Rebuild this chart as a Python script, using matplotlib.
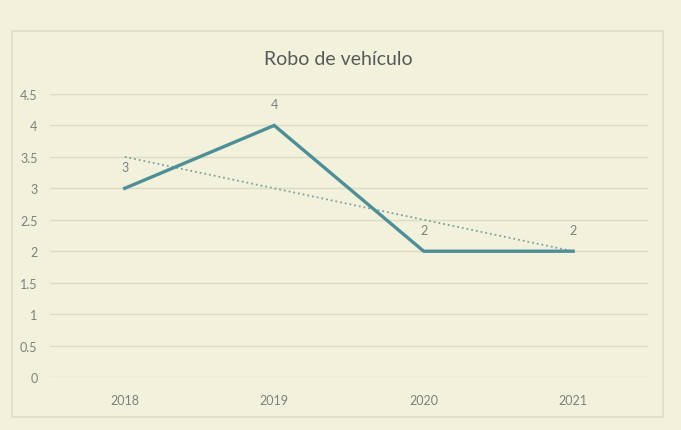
import numpy as np
import matplotlib
matplotlib.use('Agg')
import matplotlib.pyplot as plt
from matplotlib.patches import Rectangle

# Chart data
years = ['2018', '2019', '2020', '2021']
robos = [3, 4, 2, 2]
yticks = [0, 0.5, 1, 1.5, 2, 2.5, 3, 3.5, 4, 4.5]

bg = '#F2F2DC'
line_color = '#4E8F97'
text_color = '#7F7F7F'
grid_color = '#DCDCC4'

plt.rcParams['font.family'] = ['Lato', 'DejaVu Sans']

fig = plt.figure(figsize=(6.81, 4.31), dpi=100, facecolor=bg)

# Chart frame
fig.patches.append(Rectangle((0.0176, 0.030), 0.956, 0.8956, transform=fig.transFigure,
                             facecolor='none', edgecolor='#DEDEC6', linewidth=1.2))

ax = fig.add_axes([0.0734, 0.123, 0.878, 0.6566])
ax.set_facecolor(bg)

x = np.arange(len(years))
ax.plot(x, robos, color=line_color, linewidth=2.4, solid_joinstyle='miter', zorder=3)

# Linear trend line
slope, intercept = np.polyfit(x, robos, 1)
ax.plot(x, slope * x + intercept, color='#7FA0A0', linewidth=1.3, linestyle=':', zorder=2)

# Data labels
for xi, v in zip(x, robos):
    ax.annotate(f"{v}", (xi, v), xytext=(0, 11), textcoords='offset points',
                ha='center', va='bottom', fontsize=9, color=text_color)

ax.set_xlim(-0.5, len(years) - 0.5)
ax.set_ylim(0, 4.5)
ax.set_xticks(x)
ax.set_xticklabels(years)
ax.set_yticks(yticks)
ax.set_yticklabels([f"{t:g}" for t in yticks])
ax.tick_params(axis='both', length=0, labelsize=9, labelcolor=text_color)
ax.tick_params(axis='x', pad=12)
ax.tick_params(axis='y', pad=9)
ax.grid(axis='y', color=grid_color, linewidth=1)
for s in ax.spines.values():
    s.set_visible(False)

fig.text(0.497, 0.861, "Robo de vehículo", ha='center', va='center',
         fontsize=14, color='#595959')

plt.savefig("out.png", dpi=100, facecolor=bg)
plt.close()
